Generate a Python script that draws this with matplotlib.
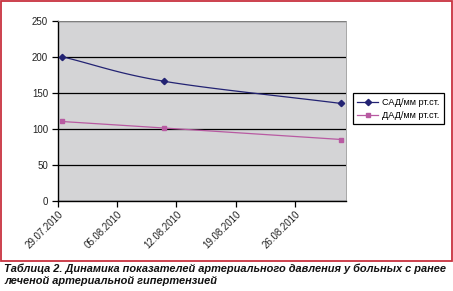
import numpy as np
import pandas as pd
import matplotlib
matplotlib.use("Agg")
import matplotlib.pyplot as plt
import matplotlib.dates as mdates
from matplotlib.patches import Rectangle

dates = ["2010-07-29", "2010-08-10", "2010-08-31"]
sad = [200, 166, 135]
dad = [110, 101, 85]
series_names = ["САД/мм рт.ст.", "ДАД/мм рт.ст."]
x_start, x_end = "2010-07-29", "2010-09-01"
caption = ("Таблица 2. Динамика показателей артериального давления у больных с ранее\n"
           "леченой артериальной гипертензией")

plt.rcParams['font.family'] = ['Liberation Sans', 'DejaVu Sans']

W, H = 453, 291
fig = plt.figure(figsize=(W / 100, H / 100), dpi=100)
fig.patch.set_facecolor('white')

# Excel-like: points centered within day
xd = mdates.date2num(pd.to_datetime(dates)) + 0.5

def smooth(x, y, n=40):
    x = np.asarray(x, float); y = np.asarray(y, float)
    P = np.column_stack([x, y])
    P = np.vstack([P[0] - (P[1] - P[0]), P, P[-1] + (P[-1] - P[-2])])
    out = []
    for i in range(1, len(P) - 2):
        p0, p1, p2, p3 = P[i - 1], P[i], P[i + 1], P[i + 2]
        t = np.linspace(0, 1, n)[:, None]
        seg = 0.5 * ((2 * p1) + (-p0 + p2) * t + (2 * p0 - 5 * p1 + 4 * p2 - p3) * t ** 2
                     + (-p0 + 3 * p1 - 3 * p2 + p3) * t ** 3)
        out.append(seg)
    out = np.vstack(out)
    return out[:, 0], out[:, 1]

ax = fig.add_axes([57.7 / W, 1 - 200.7 / H, (345.7 - 57.7) / W, 180 / H])
ax.set_facecolor('#D4D4D6')

c1 = '#232373'
c2 = '#B85AA2'
sx, sy = smooth(xd, sad)
ax.plot(sx, sy, color=c1, lw=0.9, zorder=3)
ax.plot(xd, sad, linestyle='none', marker='D', ms=3.2, color=c1, zorder=4)
dx, dy = smooth(xd, dad)
ax.plot(dx, dy, color=c2, lw=0.9, zorder=3)
ax.plot(xd, dad, linestyle='none', marker='s', ms=3.2, color=c2, zorder=4)

# legend proxies
h1, = ax.plot([], [], color=c1, lw=0.9, marker='D', ms=3.2)
h2, = ax.plot([], [], color=c2, lw=0.9, marker='s', ms=3.2)

ax.set_ylim(0, 250)
ax.set_yticks(np.arange(0, 251, 50))
ax.set_xlim(mdates.date2num(pd.Timestamp(x_start)), mdates.date2num(pd.Timestamp(x_end)))
ticks = mdates.date2num(pd.date_range(x_start, x_end, freq='7D'))
ax.set_xticks(ticks)
ax.xaxis.set_major_formatter(mdates.DateFormatter('%d.%m.%Y'))
ax.grid(axis='y', color='black', lw=0.9, zorder=1)
ax.set_axisbelow(True)

for lab in ax.get_xticklabels():
    lab.set_rotation(45)
    lab.set_ha('right')
    lab.set_rotation_mode('anchor')
ax.tick_params(axis='both', labelsize=7, color='black', labelcolor='#222222',
               length=4, width=0.9, direction='out', pad=2)
ax.tick_params(axis='y', pad=3)
ax.spines['left'].set_color('black')
ax.spines['bottom'].set_color('black')
ax.spines['left'].set_linewidth(1)
ax.spines['bottom'].set_linewidth(1)
ax.spines['top'].set_color('#999999')
ax.spines['right'].set_color('#999999')
ax.spines['top'].set_linewidth(0.6)
ax.spines['right'].set_linewidth(0.6)

leg = fig.legend([h1, h2], series_names, loc='upper left',
                 bbox_to_anchor=(352.5 / W, 1 - 93.5 / H), fontsize=6.6,
                 frameon=True, fancybox=False, edgecolor='black', framealpha=1,
                 handlelength=2.3, handletextpad=0.4, borderpad=0.5, labelspacing=0.4,
                 borderaxespad=0)
leg.get_frame().set_linewidth(0.9)

fig.patches.append(Rectangle((1 / W, 1 - 260.5 / H), 450.5 / W, 259.5 / H,
                             transform=fig.transFigure, fill=False,
                             edgecolor='#C8323F', lw=1.3))

fig.text(4 / W, 1 - 264 / H, caption, ha='left', va='top', fontsize=7.9,
         fontweight='bold', fontstyle='italic', linespacing=1.2, color='#111111')

fig.savefig('out.png', dpi=100)
